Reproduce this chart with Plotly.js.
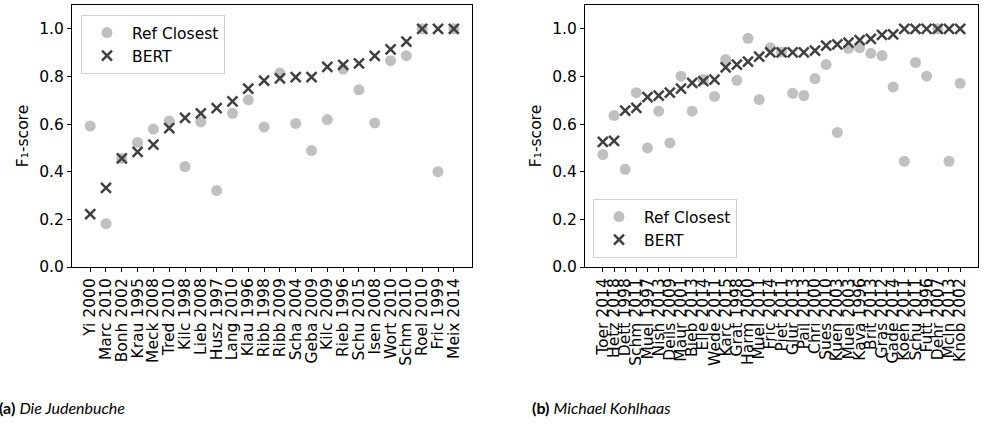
<!DOCTYPE html>
<html>
<head>
<meta charset="utf-8">
<script src="https://cdn.plot.ly/plotly-3.0.1.min.js"></script>
<style>html,body{margin:0;padding:0;background:#fff;}#chart{width:987px;height:425px;}</style>
</head>
<body>
<div id="chart"></div>
<script>
// ---- Data: (a) Die Judenbuche ----
const catsA = ["Yi 2000","Marc 2010","Bonh 2002","Krau 1995","Meck 2008","Tred 2010","Kilc 1998","Lieb 2008","Husz 1997","Lang 2010","Klau 1996","Ribb 1998","Ribb 2009","Scha 2004","Geba 2009","Kilc 2009","Rieb 1996","Schu 2015","Isen 2008","Wort 2010","Schm 2010","Roel 2010","Fric 1999","Meix 2014"];
const refA  = [0.592,0.182,0.456,0.523,0.579,0.613,0.422,0.609,0.321,0.645,0.702,0.588,0.814,0.603,0.489,0.619,0.831,0.744,0.605,0.866,0.887,1.0,0.400,1.0];
const bertA = [0.222,0.332,0.456,0.483,0.514,0.583,0.626,0.645,0.667,0.695,0.749,0.782,0.792,0.797,0.797,0.840,0.849,0.855,0.886,0.914,0.946,1.0,1.0,1.0];

// ---- Data: (b) Michael Kohlhaas ----
const catsB = ["Toer 2014","Hetz 2018","Dett 1998","Schm 2011","Muel 1997","Nish 2013","Deils 2009","Maur 2001","Bieb 2013","Elle 2014","Wede 2011","Karc 2015","Grat 1998","Harm 2000","Muel 2011","Fric 2014","Piet 2011","Glur 2013","Pail 2013","Chri 2000","Sues 2010","Kuen 2003","Muel 2003","Kava 1996","Brit 2013","Gras 2012","Gade 2014","Koeh 2011","Schu 2011","Futt 1996","Dehr 2007","Mcln 2013","Knob 2002"];
const refB  = [0.472,0.636,0.410,0.732,0.500,0.654,0.521,0.801,0.654,0.787,0.716,0.871,0.784,0.960,0.703,0.921,0.903,0.729,0.720,0.791,0.850,0.565,0.918,0.921,0.897,0.888,0.756,0.444,0.859,0.801,1.0,0.444,0.771];
const bertB = [0.525,0.530,0.657,0.668,0.713,0.720,0.732,0.749,0.773,0.780,0.787,0.838,0.850,0.862,0.883,0.901,0.901,0.901,0.901,0.908,0.929,0.935,0.942,0.953,0.958,0.975,0.977,1.0,1.0,1.0,1.0,1.0,1.0];

const yTicks = [0.0,0.2,0.4,0.6,0.8,1.0];
const yTickText = ["0.0","0.2","0.4","0.6","0.8","1.0"];

const FONT = "'DejaVu Sans', Verdana, sans-serif";
const FS = 15.5;
const refColor = "#c0c0c0";
const bertColor = "#404040";
const W = 987, H = 425;

function refTrace(x, y, xa, ya, lg){
  return {type:"scatter", mode:"markers", x:x, y:y, xaxis:xa, yaxis:ya, name:"Ref Closest", legend:lg,
    marker:{color:refColor, size:11, symbol:"circle", line:{width:0}}};
}
function bertTrace(x, y, xa, ya, lg){
  return {type:"scatter", mode:"markers", x:x, y:y, xaxis:xa, yaxis:ya, name:"BERT", legend:lg,
    marker:{color:bertColor, size:10, symbol:"x-thin", line:{width:2.5, color:bertColor}}};
}

const data = [
  refTrace(catsA, refA, "x", "y", "legend"),
  bertTrace(catsA, bertA, "x", "y", "legend"),
  refTrace(catsB, refB, "x2", "y2", "legend2"),
  bertTrace(catsB, bertB, "x2", "y2", "legend2")
];

function xAxis(cats, domain, anchor){
  const m = (cats.length-1)*0.05;
  return {domain:domain, anchor:anchor, type:"category", categoryorder:"array", categoryarray:cats,
    range:[-m, cats.length-1+m], tickmode:"linear", dtick:1, tick0:0, tickangle:-90,
    showline:true, mirror:true, linecolor:"#000", linewidth:1, ticks:"outside", ticklen:4, tickwidth:1, tickcolor:"#000",
    showgrid:false, zeroline:false, tickfont:{family:FONT, size:FS, color:"#000"}, fixedrange:true};
}
function yAxis(domain, anchor){
  return {domain:domain, anchor:anchor, range:[0,1.1], tickmode:"array", tickvals:yTicks, ticktext:yTickText,
    showline:true, mirror:true, linecolor:"#000", linewidth:1, ticks:"outside", ticklen:4, tickwidth:1, tickcolor:"#000",
    showgrid:false, zeroline:false, tickfont:{family:FONT, size:FS, color:"#000"},
    title:{text:"F\u2081-score", font:{family:FONT, size:FS, color:"#000"}, standoff:6}};
}

const yDom = [(H-267)/H, (H-5)/H];
const legendBase = {bgcolor:"#fff", bordercolor:"#d0d0d0", borderwidth:1,
  font:{family:FONT, size:FS, color:"#000"}, tracegroupgap:0, itemwidth:40};
const layout = {
  width:W, height:H, margin:{l:0,r:0,t:0,b:0}, paper_bgcolor:"#fff", plot_bgcolor:"#fff",
  font:{family:FONT, size:FS, color:"#000"},
  xaxis: xAxis(catsA, [72/W, 472/W], "y"),
  yaxis: yAxis(yDom, "x"),
  xaxis2: xAxis(catsB, [585/W, 978/W], "y2"),
  yaxis2: yAxis(yDom, "x2"),
  legend:Object.assign({x:81/W, y:(H-15)/H, xanchor:"left", yanchor:"top"}, legendBase),
  legend2:Object.assign({x:593/W, y:(H-258)/H, xanchor:"left", yanchor:"bottom"}, legendBase),
  showlegend:true,
  annotations:[
    {xref:"paper", yref:"paper", x:-0.003, y:(H-407)/H, xanchor:"left", yanchor:"middle", showarrow:false,
     text:"<b>(a)</b> <i>Die Judenbuche</i>", font:{family:"Lato", size:16, color:"#000"}},
    {xref:"paper", yref:"paper", x:530/W, y:(H-407)/H, xanchor:"left", yanchor:"middle", showarrow:false,
     text:"<b>(b)</b> <i>Michael Kohlhaas</i>", font:{family:"Lato", size:16, color:"#000"}}
  ]
};

Plotly.newPlot("chart", data, layout, {displayModeBar:false, staticPlot:true});
</script>
</body>
</html>
